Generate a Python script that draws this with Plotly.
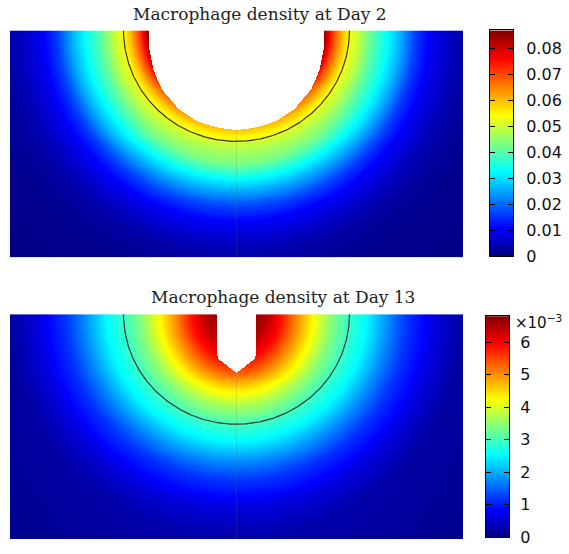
import numpy as np
import plotly.graph_objects as go

# ---------------- data ----------------
TITLE_TOP = "Macrophage density at Day 2"
TITLE_BOTTOM = "Macrophage density at Day 13"

# domain (length units), wound centred at x=0 on the top surface
DOMAIN_HALF_WIDTH = 226.5
DOMAIN_DEPTH = 231.0
CONTOUR_RADIUS = 113.0

# Day 2 wound outline: half-width vs depth
WOUND2_DEPTH = [0, 20, 40, 60, 80, 92, 96, 99, 101]
WOUND2_HALF = [88, 87, 83, 75, 58, 40, 28, 17, 0]
# Day 13 wound (narrow slot with pointed tip)
WOUND13_DEPTH = [0, 40, 46, 60]
WOUND13_HALF = [20, 20, 18, 0]

# radial density profiles (horizontal direction / vertical direction)
RADIUS_DAY2 = [85, 89, 96, 106, 116, 123, 136, 149, 164, 179, 194, 214, 231, 260, 330]
DENS_DAY2_H = [0.087, 0.084, 0.072, 0.060, 0.052, 0.049, 0.040, 0.034, 0.026, 0.016,
               0.010, 0.0055, 0.003, 0.0012, 0.0003]
DENS_DAY2_V = [0.072, 0.068, 0.062, 0.056, 0.050, 0.047, 0.043, 0.034, 0.025, 0.017,
               0.011, 0.006, 0.003, 0.0012, 0.0003]

RADIUS_DAY13 = [18, 21, 31, 46, 61, 76, 96, 113, 131, 151, 170, 186, 200, 228, 330]
DENS_DAY13_H = [0.0067, 0.0066, 0.0064, 0.0058, 0.0050, 0.0043, 0.0034, 0.0029, 0.0025,
                0.0018, 0.0012, 0.0009, 0.0006, 0.0002, 0.00005]
DENS_DAY13_V = [0.0067, 0.0066, 0.0064, 0.0060, 0.0053, 0.0045, 0.0036, 0.0030, 0.0025,
                0.0018, 0.0012, 0.0009, 0.0006, 0.0003, 0.0001]

CMAX_DAY2 = 0.087
CMAX_DAY13 = 0.0068
TICKS_DAY2 = [0, 0.01, 0.02, 0.03, 0.04, 0.05, 0.06, 0.07, 0.08]
TICKS_DAY13 = [0, 0.001, 0.002, 0.003, 0.004, 0.005, 0.006]
TICKTEXT_DAY2 = ["0", "0.01", "0.02", "0.03", "0.04", "0.05", "0.06", "0.07", "0.08"]
TICKTEXT_DAY13 = ["0", "1", "2", "3", "4", "5", "6"]

# ---------------- field construction ----------------
NX, NY = 453, 231
xs = np.linspace(-DOMAIN_HALF_WIDTH + 0.5, DOMAIN_HALF_WIDTH - 0.5, NX)
ds = np.linspace(0.5, DOMAIN_DEPTH - 0.5, NY)
X, D = np.meshgrid(xs, ds)
R = np.sqrt(X ** 2 + D ** 2)
COS2 = X ** 2 / R ** 2


def field(radius, dens_h, dens_v, wdepth, whalf):
    ph = np.interp(R, radius, dens_h)
    pv = np.interp(R, radius, dens_v)
    z = ph * COS2 + pv * (1 - COS2)
    half = np.interp(D, wdepth, whalf, right=-1)
    z[np.abs(X) < half] = np.nan
    return z


Z2 = field(RADIUS_DAY2, DENS_DAY2_H, DENS_DAY2_V, WOUND2_DEPTH, WOUND2_HALF)
Z13 = field(RADIUS_DAY13, DENS_DAY13_H, DENS_DAY13_V, WOUND13_DEPTH, WOUND13_HALF)

JET = [[0.0, "rgb(0,0,128)"], [0.125, "rgb(0,0,255)"], [0.375, "rgb(0,255,255)"],
       [0.625, "rgb(255,255,0)"], [0.875, "rgb(255,0,0)"], [1.0, "rgb(128,0,0)"]]

t = np.linspace(0, np.pi, 400)
cx = CONTOUR_RADIUS * np.cos(t)
cy = -CONTOUR_RADIUS * np.sin(t)

fig = go.Figure()

for i, (Z, cmax, wdepth) in enumerate([(Z2, CMAX_DAY2, WOUND2_DEPTH),
                                        (Z13, CMAX_DAY13, WOUND13_DEPTH)]):
    xa = "x" if i == 0 else "x2"
    ya = "y" if i == 0 else "y2"
    fig.add_trace(go.Heatmap(x=xs, y=-ds, z=Z, colorscale=JET, zmin=0, zmax=cmax,
                             showscale=False, xaxis=xa, yaxis=ya, hoverinfo="skip"))
    fig.add_trace(go.Scatter(x=[0, 0], y=[-max(wdepth), -DOMAIN_DEPTH], mode="lines",
                             line=dict(color="rgba(110,110,110,0.2)", width=1),
                             xaxis=xa, yaxis=ya, showlegend=False, hoverinfo="skip"))
    fig.add_trace(go.Scatter(x=cx, y=cy, mode="lines",
                             line=dict(color="#333333", width=1.2),
                             xaxis=xa, yaxis=ya, showlegend=False, hoverinfo="skip"))

# colour bars drawn as narrow heatmaps
for i, cmax in enumerate([CMAX_DAY2, CMAX_DAY13]):
    vals = np.linspace(0, cmax, 400)
    fig.add_trace(go.Heatmap(x=[0], y=vals, z=vals[:, None], colorscale=JET, zmin=0,
                             zmax=cmax, showscale=False, hoverinfo="skip",
                             xaxis="x3" if i == 0 else "x4",
                             yaxis="y3" if i == 0 else "y4"))

W, H = 569, 554


def px_x(a, b):
    return [a / W, b / W]


def px_y(top, bottom):
    return [1 - bottom / H, 1 - top / H]


hidden = dict(visible=False, showgrid=False, zeroline=False)
fig.update_layout(
    width=W, height=H, margin=dict(l=0, r=0, t=0, b=0),
    paper_bgcolor="white", plot_bgcolor="white", showlegend=False,
    xaxis=dict(domain=px_x(10, 463), range=[-DOMAIN_HALF_WIDTH, DOMAIN_HALF_WIDTH], **hidden),
    yaxis=dict(domain=px_y(31, 262), range=[-DOMAIN_DEPTH, 0], **hidden),
    xaxis2=dict(domain=px_x(10, 463), range=[-DOMAIN_HALF_WIDTH, DOMAIN_HALF_WIDTH], **hidden),
    yaxis2=dict(domain=px_y(320, 549), range=[-DOMAIN_DEPTH, 0], **hidden),
)

cb_x = dict(range=[-0.5, 0.5], showgrid=False, zeroline=False, showticklabels=False,
            showline=True, linecolor="black", linewidth=1, mirror=True, ticks="")
cb_y = dict(showgrid=False, zeroline=False, side="right", ticks="inside", ticklen=5,
            tickcolor="black", showline=True, linecolor="black", linewidth=1,
            mirror="ticks", tickfont=dict(family="DejaVu Sans", size=16, color="#111"))
fig.update_layout(
    xaxis3=dict(domain=px_x(490, 513), anchor="y3", **cb_x),
    yaxis3=dict(domain=px_y(31, 261), anchor="x3", range=[0, CMAX_DAY2],
                tickvals=TICKS_DAY2, ticktext=TICKTEXT_DAY2, ticklabelstandoff=9, **cb_y),
    xaxis4=dict(domain=px_x(486, 509), anchor="y4", **cb_x),
    yaxis4=dict(domain=px_y(322, 547), anchor="x4", range=[0, CMAX_DAY13],
                tickvals=TICKS_DAY13, ticktext=TICKTEXT_DAY13, ticklabelstandoff=7, **cb_y),
)

title_font = dict(family="DejaVu Serif", size=17, color="#222")
fig.add_annotation(text=TITLE_TOP, x=260 / W, y=1 - 14 / H, xref="paper", yref="paper",
                   showarrow=False, font=title_font, xanchor="center", yanchor="middle")
fig.add_annotation(text=TITLE_BOTTOM, x=283 / W, y=1 - 302 / H, xref="paper", yref="paper",
                   showarrow=False, font=title_font, xanchor="center", yanchor="middle")
fig.add_annotation(text="×10<sup>−3</sup>", x=513 / W, y=1 - 328 / H, xref="paper",
                   yref="paper", showarrow=False, xanchor="left", yanchor="middle",
                   font=dict(family="DejaVu Sans", size=15, color="#111"))

fig.write_html(
    "out.html",
    config={"displayModeBar": False, "responsive": False},
    post_script=("document.body.style.margin='0';"
                 "document.documentElement.style.overflow='hidden';"
                 "document.body.style.overflow='hidden';"),
)
